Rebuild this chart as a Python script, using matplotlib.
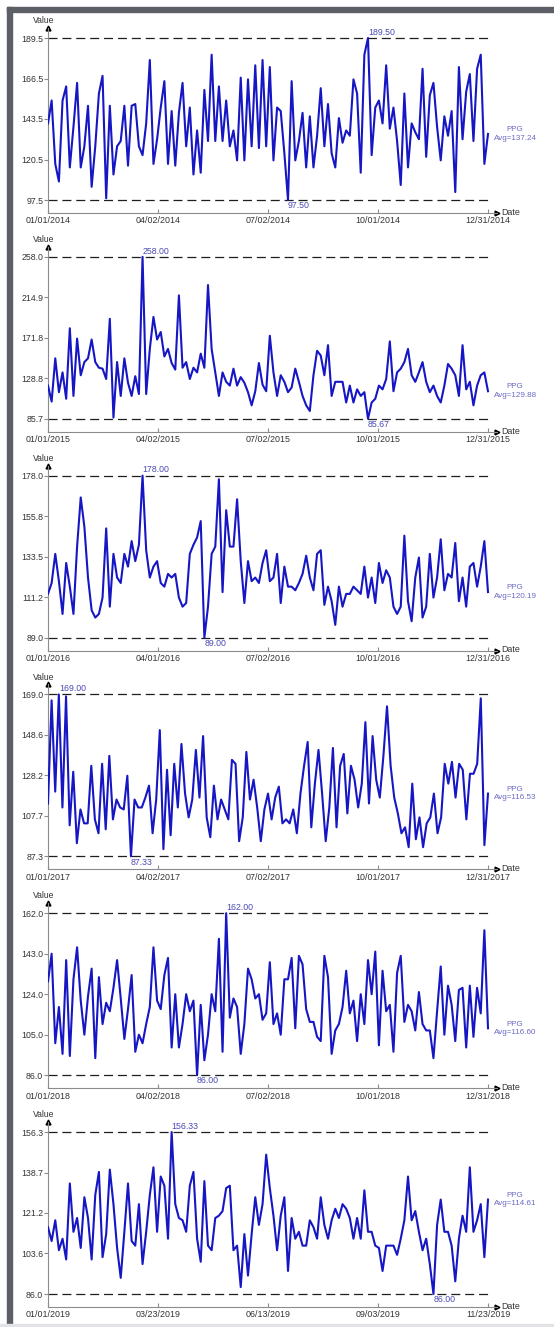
import numpy as np
import matplotlib.pyplot as plt
from matplotlib.patches import Rectangle

plt.rcParams['font.family'] = ['Liberation Sans', 'DejaVu Sans']
plt.rcParams['lines.scale_dashes'] = False

# one panel per year, PPG values
starts = ['2014-01-01', '2015-01-01', '2016-01-01', '2017-01-01', '2018-01-01', '2019-01-01']
ends = ['2014-12-31', '2015-12-31', '2016-12-31', '2017-12-31', '2018-12-31', '2019-11-23']
date_labels = [
    ['01/01/2014', '04/02/2014', '07/02/2014', '10/01/2014', '12/31/2014'],
    ['01/01/2015', '04/02/2015', '07/02/2015', '10/01/2015', '12/31/2015'],
    ['01/01/2016', '04/01/2016', '07/02/2016', '10/01/2016', '12/31/2016'],
    ['01/01/2017', '04/02/2017', '07/02/2017', '10/01/2017', '12/31/2017'],
    ['01/01/2018', '04/02/2018', '07/02/2018', '10/01/2018', '12/31/2018'],
    ['01/01/2019', '03/23/2019', '06/13/2019', '09/03/2019', '11/23/2019'],
]
avgs = [137.24, 129.88, 120.19, 116.53, 116.60, 114.61]

ppg_2014 = [141, 154, 118, 108, 154, 162, 116, 139, 164, 116, 128, 151, 105, 128, 158, 168,
            98.5, 151, 112, 128, 131, 151, 117, 151, 152, 128, 123, 141, 177, 118, 132, 150,
            165, 118, 148, 117, 147, 164, 128, 150, 112, 137, 113, 160, 131, 180, 131, 162,
            131, 154, 128, 137, 120, 167, 120, 166, 128, 174, 127, 177, 128, 173, 120, 150,
            148, 124, 97.5, 165, 120, 131, 147, 116, 145, 116, 134, 161, 128, 152, 124, 116,
            144, 130, 137, 134, 166, 158, 113, 180, 189.5, 123, 150, 154, 141, 174, 138, 150,
            131, 106, 158, 116, 141, 136, 132, 172, 122, 157, 164, 139, 120, 145, 134, 148,
            102, 173, 132, 159, 169, 131, 172, 180, 118, 135]
ppg_2015 = [121, 104, 150, 114, 135, 107, 182, 110, 171, 132, 146, 150, 170, 146, 140, 139,
            128, 192, 87, 146, 110, 150, 124, 110, 131, 112, 258, 112, 160, 194, 170, 178,
            152, 160, 145, 138, 217, 140, 146, 128, 140, 135, 155, 140, 228, 160, 135, 110,
            135, 125, 121, 139, 121, 130, 124, 114, 100, 115, 145, 122, 115, 174, 135, 110,
            132, 125, 114, 119, 139, 125, 110, 100, 94, 132, 158, 153, 132, 164, 110, 125,
            125, 125, 103, 121, 103, 117, 110, 114, 85.67, 103, 107, 121, 117, 128, 168, 115,
            135, 139, 146, 160, 132, 125, 135, 146, 125, 114, 121, 110, 103, 121, 144, 139,
            132, 110, 164, 117, 125, 100, 121, 132, 135, 115]
ppg_2016 = [113, 119, 135, 120, 102, 130, 117, 102, 139, 166, 150, 122, 104, 100, 102, 111,
            149, 106, 135, 122, 119, 135, 128, 142, 131, 140, 178, 137, 122, 128, 131, 119,
            117, 124, 122, 124, 111, 106, 108, 135, 140, 144, 153, 89, 106, 135, 139, 176,
            114, 159, 139, 139, 165, 131, 108, 131, 120, 122, 119, 130, 137, 120, 122, 135,
            108, 128, 117, 117, 115, 119, 124, 134, 122, 115, 135, 137, 107, 117, 109, 96,
            117, 106, 113, 113, 117, 115, 113, 128, 111, 122, 108, 130, 119, 126, 122, 106,
            102, 106, 145, 109, 98, 122, 133, 100, 106, 135, 111, 122, 143, 115, 124, 122,
            141, 109, 122, 106, 128, 130, 117, 128, 142, 114]
ppg_2017 = [114, 166, 120, 169, 112, 168, 103, 130, 94, 111, 104, 104, 133, 106, 99, 134,
            101, 138, 106, 116, 112, 111, 128, 87.33, 116, 112, 112, 117, 123, 99, 116, 151,
            91, 131, 98, 134, 112, 144, 119, 107, 116, 141, 117, 148, 107, 97, 123, 106,
            116, 111, 106, 136, 134, 95, 107, 140, 116, 126, 112, 95, 111, 119, 106, 117,
            122.5, 104, 106, 104, 111, 99, 119, 133, 145, 102, 124, 141, 119, 95, 112, 142,
            102, 133, 139, 109, 133, 126, 112, 124, 155, 114, 148, 126, 117, 138, 163, 133,
            117, 109, 99, 102, 92, 124, 96, 107, 92, 104, 107, 119, 99, 107, 134, 124,
            135, 117, 134, 131, 106, 129, 129, 134, 167, 93, 119]
ppg_2018 = [130, 143, 101, 118, 96, 140, 95, 131, 146, 121, 105, 123, 136, 94, 132, 110,
            120, 116, 127, 140, 122, 103, 117, 133, 97, 105, 101, 110, 118, 146, 121, 117,
            133, 141, 99, 124, 99, 110, 124, 116, 121, 86, 119, 93, 105, 124, 116, 150,
            97, 162, 113, 122, 118, 96, 110, 136, 131, 122, 124, 112, 115, 139, 110, 115,
            105, 131, 131, 141, 108, 142, 138, 117, 111, 111, 104, 102, 142, 132, 96, 107,
            110, 118, 135, 115, 121, 102, 124, 110, 140, 124, 144, 100, 135, 116, 119, 97,
            134, 142, 111, 119, 116, 107, 125, 110, 107, 107, 94, 116, 137, 105, 128, 119,
            102, 126, 127, 99, 128, 104, 127, 115, 154, 108]
ppg_2019 = [115, 109, 118, 105, 110, 101, 134, 113, 119, 106, 128, 119, 101, 129, 139, 102,
            112, 140, 125, 106, 93, 113, 134, 109, 107, 125, 99, 113, 129, 141, 113, 137,
            133, 110, 156.33, 125, 119, 118, 113, 133, 139, 110, 100, 135, 107, 105, 119, 120,
            122, 132, 133, 105, 107, 89, 112, 94, 112, 128, 116, 125, 146.5, 132, 120, 105,
            120, 128, 96, 119, 110, 113, 107, 107, 118, 115, 110, 128, 116, 110, 118, 123,
            119, 125, 123, 119, 110, 119, 110, 131, 113, 113, 107, 106, 96, 107, 107, 107,
            103, 110, 118, 137, 118, 122, 113, 105, 110, 99, 86, 116, 127, 113, 113, 107,
            91.5, 110, 120, 113, 141, 113, 118, 125, 102, 127]
series = [ppg_2014, ppg_2015, ppg_2016, ppg_2017, ppg_2018, ppg_2019]

W, H = 554, 1327
fig = plt.figure(figsize=(W / 100, H / 100), dpi=100)

# dark frame at top/left, light line at bottom
frame = '#5c5f66'
fig.patches.append(Rectangle((7 / W, 0), 5 / W, (H - 7) / H, transform=fig.transFigure,
                             color=frame, zorder=0))
fig.patches.append(Rectangle((7 / W, (H - 12) / H), (W - 7) / W, 5 / H, transform=fig.transFigure,
                             color=frame, zorder=0))
fig.patches.append(Rectangle((0, 0), 1, 3 / H, transform=fig.transFigure,
                             color='#e2e3e6', zorder=0))

line_color = '#1616c4'
label_color = '#4a4ab2'
axis_color = '#8c8c8c'
text_color = '#333333'

for k in range(6):
    vals = np.array(series[k], dtype=float)
    n_days = int((np.datetime64(ends[k]) - np.datetime64(starts[k])).astype(int))
    x = np.linspace(0, n_days, len(vals))
    vmax, vmin = vals.max(), vals.min()
    rng = vmax - vmin

    top_px = 38 + 218.8 * k
    ax = fig.add_axes([48 / W, 1 - (top_px + 175) / H, 449 / W, 185 / H])
    ax.set_xlim(0, n_days * 449 / 440)
    ax.set_ylim(vmin - rng * 13 / 162, vmax + rng * 10 / 162)
    ax.patch.set_alpha(0)

    for s in ['top', 'right']:
        ax.spines[s].set_visible(False)
    for s in ['left', 'bottom']:
        ax.spines[s].set_color(axis_color)
        ax.spines[s].set_linewidth(0.8)

    yt = np.linspace(vmin, vmax, 5)
    ax.set_yticks(yt)
    ax.set_yticklabels([f'{v:.1f}' for v in yt])
    ax.set_xticks(np.linspace(0, n_days, 5))
    ax.set_xticklabels(date_labels[k])
    ax.tick_params(axis='y', direction='out', length=3, width=0.8, color=axis_color,
                   labelsize=6.3, labelcolor=text_color, pad=0.5)
    ax.tick_params(axis='x', direction='in', length=3, width=0.8, color=axis_color,
                   labelsize=6.4, labelcolor=text_color, pad=2.5)

    # arrow heads
    ax.plot([0], [1], marker='^', ms=3.5, color='black', transform=ax.transAxes, clip_on=False)
    ax.plot([1], [0], marker='>', ms=3.5, color='black', transform=ax.transAxes, clip_on=False)

    # max / min reference lines
    for v in (vmax, vmin):
        ax.plot([0, n_days], [v, v], color='#1e1e1e', lw=0.9, dashes=(6.5, 3.5), zorder=2)

    ax.plot(x, vals, color=line_color, lw=1.5, zorder=3)

    imax, imin = vals.argmax(), vals.argmin()
    ax.annotate(f'{vmax:.2f}', (x[imax], vmax), xytext=(0, 0.8), textcoords='offset points',
                ha='left', va='bottom', fontsize=6.3, color=label_color)
    ax.annotate(f'{vmin:.2f}', (x[imin], vmin), xytext=(0, -0.8), textcoords='offset points',
                ha='left', va='top', fontsize=6.3, color=label_color)

    ax.annotate(f'PPG\nAvg={avgs[k]:.2f}', xy=(1, vals[-1]), xycoords=('axes fraction', 'data'),
                xytext=(13, 0), textcoords='offset points', ha='center', va='center',
                fontsize=5.8, color='#6a6ac4', linespacing=1.3)

    ax.annotate('Value', xy=(0, 1), xycoords='axes fraction', xytext=(-3, 2),
                textcoords='offset points', ha='center', va='bottom', fontsize=6.2, color=text_color)
    ax.annotate('Date', xy=(1, 0), xycoords='axes fraction', xytext=(3, 0.5),
                textcoords='offset points', ha='left', va='center', fontsize=6.4, color=text_color)

fig.savefig('out.png', dpi=100)
